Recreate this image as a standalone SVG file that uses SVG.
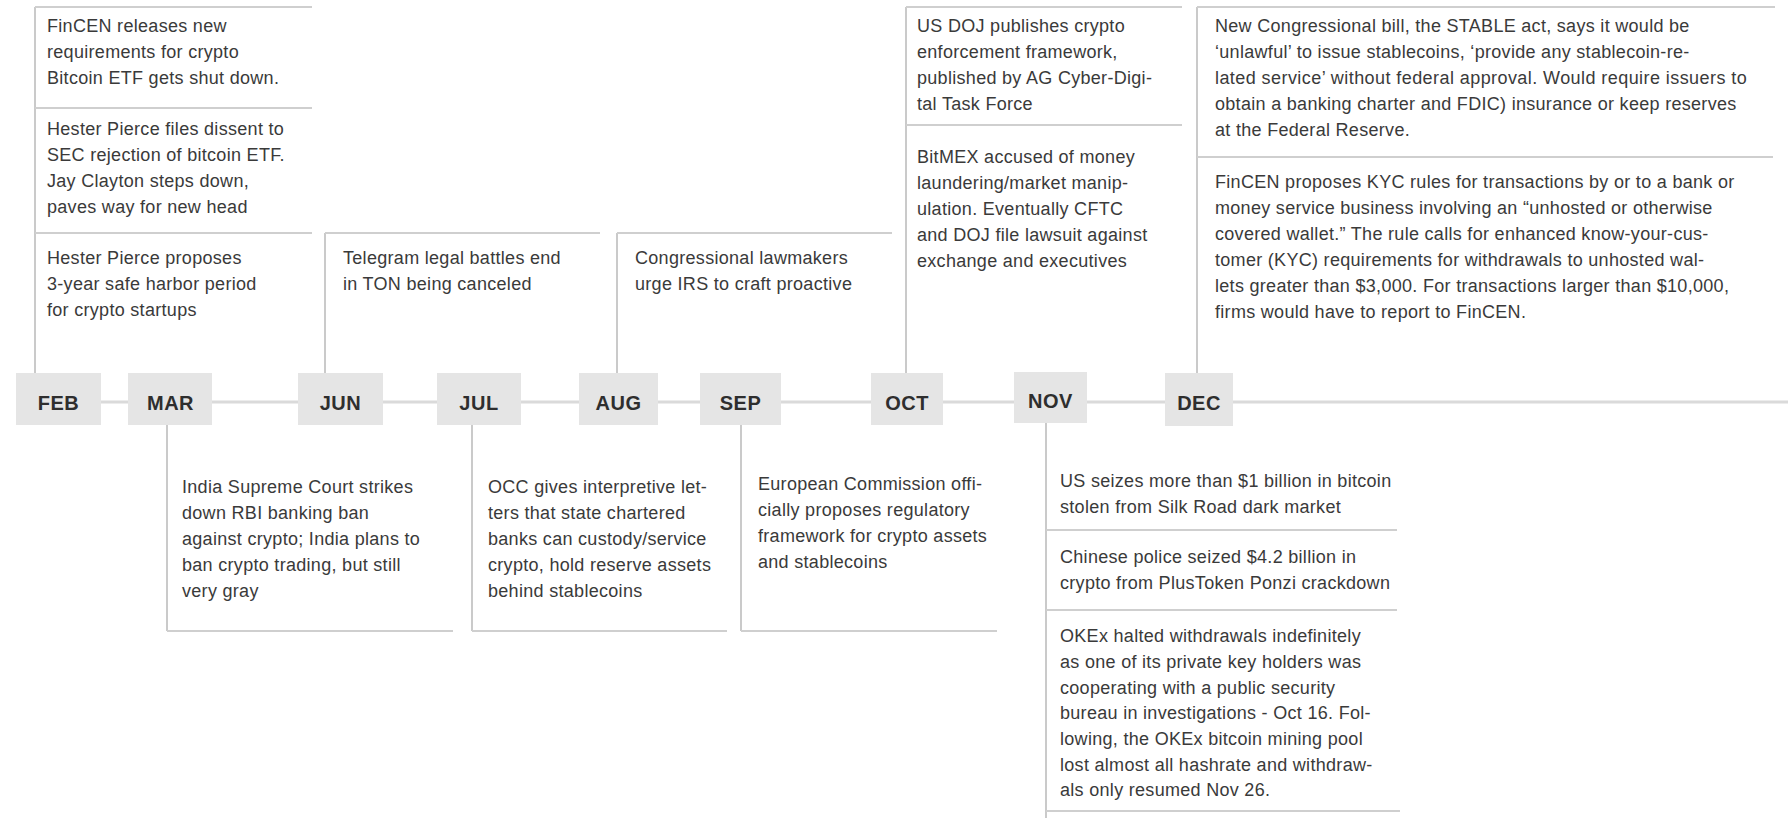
<svg xmlns="http://www.w3.org/2000/svg" width="1788" height="818" viewBox="0 0 1788 818">
<style>
.t{font-family:"Liberation Sans",Arial,sans-serif;font-size:18px;letter-spacing:0.3px;fill:#3a3a3a}
.m{font-family:"Liberation Sans",Arial,sans-serif;font-size:20px;font-weight:700;fill:#2e2e2e;text-anchor:middle;letter-spacing:0.5px}
.box{fill:#e5e5e5}
.v{stroke:#b8b8b8;stroke-width:1.5;fill:none}
.h{stroke:#cfcfcf;stroke-width:2;fill:none}
.tl{stroke:#dadada;stroke-width:3;fill:none}
</style>
<rect width="1788" height="818" fill="#ffffff"/>
<g id="connectors">
<line class="tl" x1="60" y1="402" x2="1788" y2="402"/>
<line class="v" x1="35" y1="7" x2="35" y2="373"/>
<line class="v" x1="325" y1="233" x2="325" y2="373"/>
<line class="v" x1="617" y1="233" x2="617" y2="373"/>
<line class="v" x1="906" y1="7" x2="906" y2="373"/>
<line class="v" x1="1197" y1="7" x2="1197" y2="373"/>
<line class="v" x1="167" y1="425" x2="167" y2="631"/>
<line class="v" x1="472" y1="425" x2="472" y2="631"/>
<line class="v" x1="741" y1="425" x2="741" y2="631"/>
<line class="v" x1="1046" y1="423" x2="1046" y2="818"/>
</g>
<g id="feb">
<rect class="box" x="16" y="373" width="85" height="52"/>
<text class="m" x="58.5" y="410">FEB</text>
</g>
<g id="feb-events">
<line class="h" x1="35" y1="7" x2="312" y2="7"/>
<line class="h" x1="35" y1="108" x2="312" y2="108"/>
<line class="h" x1="35" y1="233" x2="312" y2="233"/>
<text class="t"><tspan x="47" y="32">FinCEN releases new</tspan><tspan x="47" y="58">requirements for crypto</tspan><tspan x="47" y="84">Bitcoin ETF gets shut down.</tspan></text>
<text class="t"><tspan x="47" y="135">Hester Pierce files dissent to</tspan><tspan x="47" y="161">SEC rejection of bitcoin ETF.</tspan><tspan x="47" y="187">Jay Clayton steps down,</tspan><tspan x="47" y="213">paves way for new head</tspan></text>
<text class="t"><tspan x="47" y="264">Hester Pierce proposes</tspan><tspan x="47" y="290">3-year safe harbor period</tspan><tspan x="47" y="316">for crypto startups</tspan></text>
</g>
<g id="mar">
<rect class="box" x="128" y="373" width="84" height="52"/>
<text class="m" x="170.5" y="410">MAR</text>
</g>
<g id="mar-events">
<line class="h" x1="167" y1="631" x2="453" y2="631"/>
<text class="t"><tspan x="182" y="493">India Supreme Court strikes</tspan><tspan x="182" y="519">down RBI banking ban</tspan><tspan x="182" y="545">against crypto; India plans to</tspan><tspan x="182" y="571">ban crypto trading, but still</tspan><tspan x="182" y="597">very gray</tspan></text>
</g>
<g id="jun">
<rect class="box" x="298" y="373" width="85" height="52"/>
<text class="m" x="340.5" y="410">JUN</text>
</g>
<g id="jun-events">
<line class="h" x1="325" y1="233" x2="600" y2="233"/>
<text class="t"><tspan x="343" y="264">Telegram legal battles end</tspan><tspan x="343" y="290">in TON being canceled</tspan></text>
</g>
<g id="jul">
<rect class="box" x="437" y="373" width="84" height="52"/>
<text class="m" x="479" y="410">JUL</text>
</g>
<g id="jul-events">
<line class="h" x1="472" y1="631" x2="727" y2="631"/>
<text class="t"><tspan x="488" y="493">OCC gives interpretive let-</tspan><tspan x="488" y="519">ters that state chartered</tspan><tspan x="488" y="545">banks can custody/service</tspan><tspan x="488" y="571">crypto, hold reserve assets</tspan><tspan x="488" y="597">behind stablecoins</tspan></text>
</g>
<g id="aug">
<rect class="box" x="579" y="373" width="79" height="52"/>
<text class="m" x="618.5" y="410">AUG</text>
</g>
<g id="aug-events">
<line class="h" x1="617" y1="233" x2="892" y2="233"/>
<text class="t"><tspan x="635" y="264">Congressional lawmakers</tspan><tspan x="635" y="290">urge IRS to craft proactive</tspan></text>
</g>
<g id="sep">
<rect class="box" x="700" y="373" width="81" height="52"/>
<text class="m" x="740.5" y="410">SEP</text>
</g>
<g id="sep-events">
<line class="h" x1="741" y1="631" x2="997" y2="631"/>
<text class="t"><tspan x="758" y="490">European Commission offi-</tspan><tspan x="758" y="516">cially proposes regulatory</tspan><tspan x="758" y="542">framework for crypto assets</tspan><tspan x="758" y="568">and stablecoins</tspan></text>
</g>
<g id="oct">
<rect class="box" x="871" y="373" width="72" height="52"/>
<text class="m" x="907" y="410">OCT</text>
</g>
<g id="oct-events">
<line class="h" x1="906" y1="7" x2="1182" y2="7"/>
<line class="h" x1="906" y1="125" x2="1182" y2="125"/>
<text class="t"><tspan x="917" y="32">US DOJ publishes crypto</tspan><tspan x="917" y="58">enforcement framework,</tspan><tspan x="917" y="84">published by AG Cyber-Digi-</tspan><tspan x="917" y="110">tal Task Force</tspan></text>
<text class="t"><tspan x="917" y="163">BitMEX accused of money</tspan><tspan x="917" y="189">laundering/market manip-</tspan><tspan x="917" y="215">ulation. Eventually CFTC</tspan><tspan x="917" y="241">and DOJ file lawsuit against</tspan><tspan x="917" y="267">exchange and executives</tspan></text>
</g>
<g id="nov">
<rect class="box" x="1014" y="372" width="73" height="51"/>
<text class="m" x="1050.5" y="408">NOV</text>
</g>
<g id="nov-events">
<line class="h" x1="1046" y1="530" x2="1397" y2="530"/>
<line class="h" x1="1046" y1="610" x2="1397" y2="610"/>
<line class="h" x1="1046" y1="811" x2="1400" y2="811"/>
<text class="t"><tspan x="1060" y="487">US seizes more than $1 billion in bitcoin</tspan><tspan x="1060" y="513">stolen from Silk Road dark market</tspan></text>
<text class="t"><tspan x="1060" y="563">Chinese police seized $4.2 billion in</tspan><tspan x="1060" y="589">crypto from PlusToken Ponzi crackdown</tspan></text>
<text class="t"><tspan x="1060" y="642">OKEx halted withdrawals indefinitely</tspan><tspan x="1060" y="668">as one of its private key holders was</tspan><tspan x="1060" y="694">cooperating with a public security</tspan><tspan x="1060" y="719">bureau in investigations - Oct 16. Fol-</tspan><tspan x="1060" y="745">lowing, the OKEx bitcoin mining pool</tspan><tspan x="1060" y="771">lost almost all hashrate and withdraw-</tspan><tspan x="1060" y="796">als only resumed Nov 26.</tspan></text>
</g>
<g id="dec">
<rect class="box" x="1165" y="373" width="68" height="53"/>
<text class="m" x="1199" y="410">DEC</text>
</g>
<g id="dec-events">
<line class="h" x1="1197" y1="7" x2="1775" y2="7"/>
<line class="h" x1="1197" y1="157" x2="1773" y2="157"/>
<text class="t"><tspan x="1215" y="32">New Congressional bill, the STABLE act, says it would be</tspan><tspan x="1215" y="58">‘unlawful’ to issue stablecoins, ‘provide any stablecoin-re-</tspan><tspan x="1215" y="84" textLength="532" lengthAdjust="spacing">lated service’ without federal approval. Would require issuers to</tspan><tspan x="1215" y="110">obtain a banking charter and FDIC) insurance or keep reserves</tspan><tspan x="1215" y="136">at the Federal Reserve.</tspan></text>
<text class="t"><tspan x="1215" y="188">FinCEN proposes KYC rules for transactions by or to a bank or</tspan><tspan x="1215" y="214">money service business involving an “unhosted or otherwise</tspan><tspan x="1215" y="240">covered wallet.” The rule calls for enhanced know-your-cus-</tspan><tspan x="1215" y="266">tomer (KYC) requirements for withdrawals to unhosted wal-</tspan><tspan x="1215" y="292">lets greater than $3,000. For transactions larger than $10,000,</tspan><tspan x="1215" y="318">firms would have to report to FinCEN.</tspan></text>
</g>
</svg>
